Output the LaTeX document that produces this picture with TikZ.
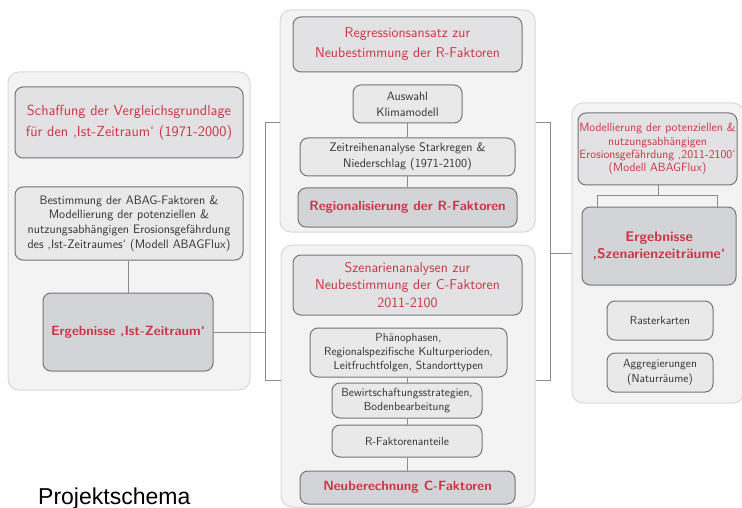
\documentclass[tikz,border=0pt]{standalone}
\usepackage{fontspec}
\newfontfamily\captionfont{Liberation Sans}
\begin{document}
\definecolor{panelfill}{HTML}{F3F3F3}
\definecolor{panelline}{HTML}{D9D9D9}
\definecolor{titlefill}{HTML}{E2E2E4}
\definecolor{stepfill}{HTML}{E9E9E9}
\definecolor{resultfill}{HTML}{D3D4D8}
\definecolor{boxline}{HTML}{757575}
\definecolor{redtxt}{HTML}{CC3545}
\definecolor{darktxt}{HTML}{333333}
\definecolor{linkgray}{HTML}{8C8C8C}
\begin{tikzpicture}[x=1pt,y=-1pt,
  panel/.style={draw=panelline,fill=panelfill,line width=1pt,rounded corners=11pt,inner sep=0pt},
  boxbase/.style={draw=boxline,line width=1pt,rounded corners=8pt,align=center,inner sep=0pt},
  titlebox/.style={boxbase,fill=titlefill,text=redtxt,font=\sffamily\fontsize{14.6}{21}\selectfont},
  stepbox/.style={boxbase,fill=stepfill,text=darktxt,font=\sffamily\fontsize{12.3}{14.8}\selectfont},
  smallstep/.style={boxbase,fill=stepfill,text=darktxt,font=\sffamily\fontsize{11.7}{14}\selectfont},
  resultbox/.style={boxbase,fill=resultfill,text=redtxt,font=\sffamily\bfseries\fontsize{13.4}{17}\selectfont},
  link/.style={draw=linkgray,line width=0.9pt}]
\fill[white] (0,0) rectangle (742,508);
\useasboundingbox (0,0) rectangle (742,508);

% --- left panel: reference period ---
\node[panel,minimum width=242pt,minimum height=318pt] (pleft) at (129,231) {};
\node[titlebox,minimum width=228pt,minimum height=71pt] (l1) at (129,122.5)
  {Schaffung der Vergleichsgrundlage\\für den ‚Ist-Zeitraum‘ (1971-2000)};
\node[stepbox,minimum width=228pt,minimum height=73pt] (l2) at (129,223.5)
  {Bestimmung der ABAG-Faktoren \&\\Modellierung der potenziellen \&\\nutzungsabhängigen Erosionsgefährdung\\des ‚Ist-Zeitraumes‘ (Modell ABAGFlux)};
\node[resultbox,minimum width=170pt,minimum height=78pt] (l3) at (128,332)
  {Ergebnisse ‚Ist-Zeitraum‘};

% --- upper middle panel: R factors ---
\node[panel,minimum width=255pt,minimum height=222pt] (ptop) at (407.5,121) {};
\node[titlebox,minimum width=229pt,minimum height=55pt,font=\sffamily\fontsize{14.2}{20}\selectfont] (m1) at (407.5,44.5)
  {Regressionsansatz zur\\Neubestimmung der R-Faktoren};
\node[stepbox,minimum width=109pt,minimum height=38pt,font=\sffamily\fontsize{12.3}{16}\selectfont] (m2) at (407.5,104)
  {Auswahl\\Klimamodell};
\node[stepbox,minimum width=215pt,minimum height=38pt,font=\sffamily\fontsize{12.3}{16}\selectfont] (m3) at (407.5,157)
  {Zeitreihenanalyse Starkregen \&\\Niederschlag (1971-2100)};
\node[resultbox,minimum width=219pt,minimum height=39pt] (m4) at (407.5,207.5)
  {Regionalisierung der R-Faktoren};

% --- lower middle panel: C factors ---
\node[panel,minimum width=254pt,minimum height=262pt] (plow) at (408,376) {};
\node[titlebox,minimum width=229pt,minimum height=60pt,font=\sffamily\fontsize{14.2}{17.5}\selectfont] (c1) at (407.5,285)
  {Szenarienanalysen zur\\Neubestimmung der C-Faktoren\\2011-2100};
\node[smallstep,minimum width=197pt,minimum height=49pt] (c2) at (408.5,352.5)
  {Phänophasen,\\Regionalspezifische Kulturperioden,\\Leitfruchtfolgen, Standorttypen};
\node[smallstep,minimum width=150pt,minimum height=35pt] (c3) at (407,400.5)
  {Bewirtschaftungsstrategien,\\Bodenbearbeitung};
\node[smallstep,minimum width=150pt,minimum height=32pt] (c4) at (407,441)
  {R-Faktorenanteile};
\node[resultbox,minimum width=215pt,minimum height=33pt] (c5) at (407.5,487.5)
  {Neuberechnung C-Faktoren};

% --- right panel: scenario periods ---
\node[panel,minimum width=172pt,minimum height=300pt] (pright) at (658,253) {};
\node[titlebox,minimum width=159pt,minimum height=72pt,font=\sffamily\fontsize{12}{13.4}\selectfont] (r1) at (657.5,149)
  {Modellierung der potenziellen \&\\nutzungsabhängigen\\Erosionsgefährdung ‚2011-2100‘\\(Modell ABAGFlux)};
\node[resultbox,minimum width=154pt,minimum height=78pt,font=\sffamily\bfseries\fontsize{14}{17}\selectfont] (r2) at (659,246)
  {Ergebnisse\\‚Szenarienzeiträume‘};
\node[smallstep,minimum width=106pt,minimum height=39pt] (r3) at (660,320.5)
  {Rasterkarten};
\node[smallstep,minimum width=106pt,minimum height=39pt,font=\sffamily\fontsize{11.7}{15}\selectfont] (r4) at (660,372.5)
  {Aggregierungen\\(Naturräume)};

% --- chains inside the panels ---
\draw[link] (l2.south -| l3.north) -- (l3.north);
\draw[link] (m2) -- (m3);
\draw[link] (m3) -- (m4);
\draw[link] (c2.south -| c3.north) -- (c3.north);
\draw[link] (c3) -- (c4);
\draw[link] (c4.south -| c5.north) -- (c5.north);

% fork from the scenario model to its results
\coordinate (fk) at (658,195);
\coordinate (fkL) at (597,195);
\coordinate (fkR) at (717,195);
\draw[link] (r1.south -| fk) -- (fk);
\draw[link] (r2.north -| fkL) -- (fkL) -- (fkR) -- (r2.north -| fkR);

% --- brackets joining the panels ---
\coordinate (lbT) at (265,122);
\coordinate (lbB) at (265,380);
\draw[link] (ptop.west |- lbT) -- (lbT) -- (lbB) -- (plow.west |- lbB);
\draw[link] (l3.east) -- (l3.east -| lbT);

\coordinate (rbT) at (550,122);
\coordinate (rbB) at (550,380);
\coordinate (rbM) at (550,253);
\draw[link] (ptop.east |- rbT) -- (rbT) -- (rbB) -- (plow.east |- rbB);
\draw[link] (rbM) -- (pright.west |- rbM);

% caption
\node[anchor=base west,inner sep=0pt,font=\captionfont\fontsize{23}{26}\selectfont] (caption) at (38,504) {Projektschema};
\end{tikzpicture}
\end{document}
